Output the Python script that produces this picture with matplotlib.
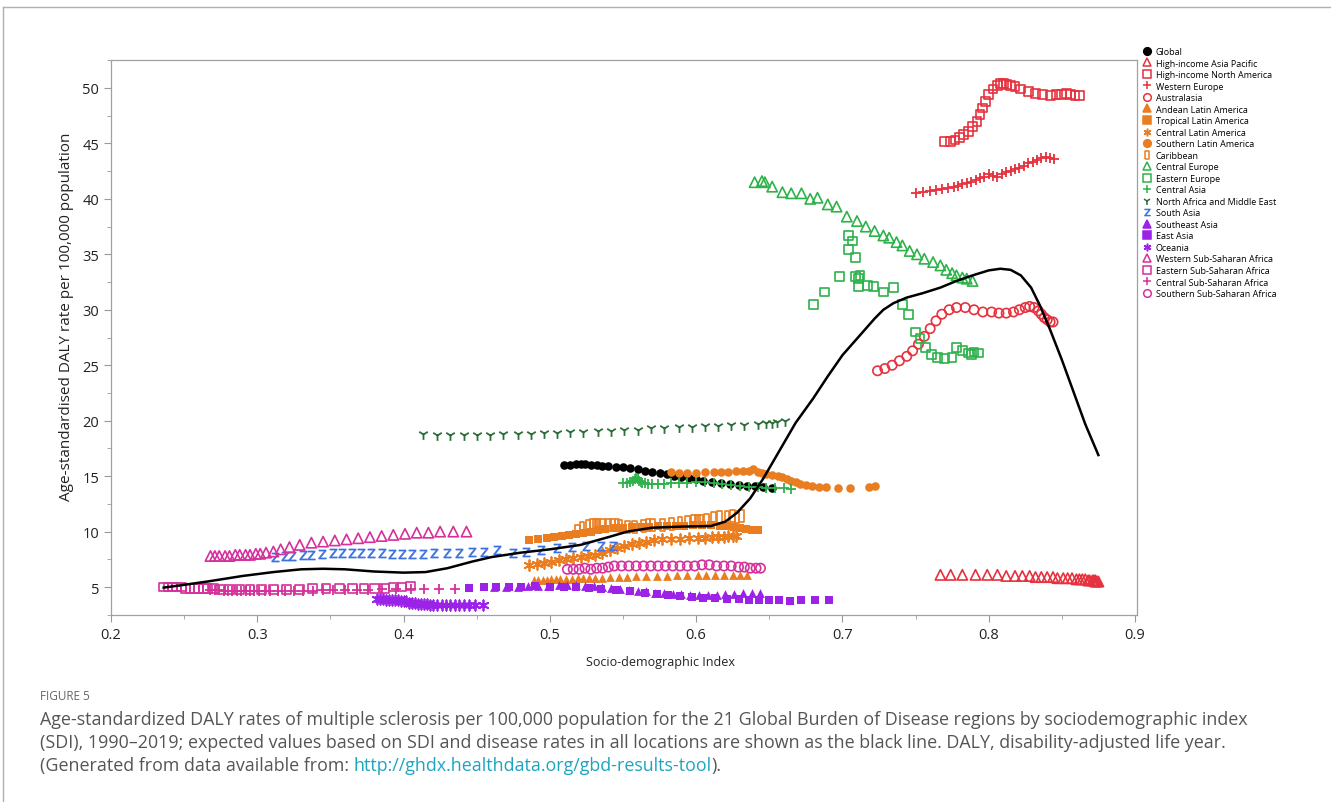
import matplotlib
matplotlib.use('Agg')
import matplotlib.pyplot as plt
from matplotlib.ticker import MultipleLocator
from matplotlib.lines import Line2D

plt.rcParams['font.family'] = ['Open Sans', 'DejaVu Sans']

# ---- data ----
global_x = [0.510, 0.514, 0.518, 0.521, 0.524, 0.528, 0.532, 0.536, 0.540, 0.545, 0.550, 0.555, 0.560, 0.565, 0.570,
            0.575, 0.580, 0.585, 0.590, 0.595, 0.600, 0.605, 0.611, 0.617, 0.623, 0.629, 0.635, 0.640, 0.646, 0.652]
global_y = [16.0, 16.0, 16.1, 16.1, 16.1, 16.0, 16.0, 15.9, 15.9, 15.8, 15.8, 15.7, 15.6, 15.5, 15.4,
            15.3, 15.2, 15.0, 14.9, 14.8, 14.7, 14.6, 14.5, 14.4, 14.3, 14.2, 14.1, 14.1, 14.0, 13.9]

hiap_x = [0.767, 0.774, 0.782, 0.791, 0.799, 0.806, 0.812, 0.818, 0.823, 0.828, 0.832, 0.836, 0.840, 0.844, 0.847,
          0.851, 0.854, 0.857, 0.860, 0.862, 0.864, 0.866, 0.868, 0.869, 0.871, 0.872, 0.873, 0.873, 0.874, 0.875]
hiap_y = [6.1, 6.1, 6.1, 6.1, 6.1, 6.1, 6.0, 6.0, 6.0, 6.0, 5.9, 5.9, 5.9, 5.9, 5.8,
          5.8, 5.8, 5.8, 5.7, 5.7, 5.7, 5.7, 5.6, 5.6, 5.6, 5.6, 5.6, 5.5, 5.5, 5.5]

hina_x = [0.770, 0.774, 0.777, 0.780, 0.783, 0.786, 0.789, 0.792, 0.794, 0.796, 0.798, 0.800, 0.803, 0.806, 0.808,
          0.810, 0.812, 0.815, 0.818, 0.822, 0.827, 0.832, 0.837, 0.842, 0.846, 0.850, 0.853, 0.856, 0.859, 0.862]
hina_y = [45.2, 45.2, 45.3, 45.5, 45.8, 46.1, 46.5, 47.0, 47.6, 48.2, 48.8, 49.4, 49.9, 50.2, 50.4,
          50.4, 50.3, 50.2, 50.1, 49.9, 49.7, 49.5, 49.4, 49.3, 49.4, 49.4, 49.5, 49.4, 49.3, 49.3]

weur_x = [0.750, 0.755, 0.760, 0.764, 0.768, 0.772, 0.776, 0.779, 0.782, 0.785, 0.788, 0.791, 0.794, 0.797, 0.800,
          0.803, 0.806, 0.809, 0.812, 0.815, 0.818, 0.821, 0.824, 0.827, 0.830, 0.833, 0.836, 0.839, 0.842, 0.845]
weur_y = [40.5, 40.6, 40.7, 40.8, 40.9, 41.0, 41.1, 41.2, 41.3, 41.4, 41.5, 41.7, 41.9, 42.0, 42.2,
          42.1, 42.0, 42.2, 42.4, 42.5, 42.7, 42.8, 43.0, 43.2, 43.3, 43.5, 43.7, 43.8, 43.7, 43.6]

aus_x = [0.724, 0.729, 0.734, 0.739, 0.744, 0.748, 0.752, 0.756, 0.760, 0.764, 0.768, 0.773, 0.778, 0.784, 0.790,
         0.796, 0.802, 0.807, 0.812, 0.817, 0.821, 0.825, 0.828, 0.831, 0.834, 0.836, 0.838, 0.840, 0.842, 0.844]
aus_y = [24.5, 24.7, 25.0, 25.4, 25.8, 26.3, 26.9, 27.6, 28.3, 29.0, 29.6, 30.0, 30.2, 30.2, 30.0,
         29.8, 29.8, 29.7, 29.7, 29.8, 30.0, 30.2, 30.3, 30.2, 29.9, 29.6, 29.3, 29.1, 28.9, 28.9]

andean_x = [0.489, 0.492, 0.495, 0.498, 0.501, 0.504, 0.507, 0.511, 0.515, 0.519, 0.523, 0.527, 0.531, 0.536, 0.541,
            0.547, 0.553, 0.559, 0.566, 0.573, 0.580, 0.587, 0.594, 0.601, 0.607, 0.613, 0.619, 0.625, 0.630, 0.635]
andean_y = [5.6, 5.6, 5.6, 5.6, 5.7, 5.7, 5.7, 5.7, 5.7, 5.8, 5.8, 5.8, 5.8, 5.8, 5.9,
            5.9, 5.9, 6.0, 6.0, 6.0, 6.0, 6.1, 6.1, 6.1, 6.1, 6.1, 6.1, 6.1, 6.1, 6.1]

trop_x = [0.486, 0.492, 0.498, 0.503, 0.508, 0.513, 0.518, 0.523, 0.528, 0.533, 0.538, 0.544, 0.550, 0.556, 0.562,
          0.568, 0.574, 0.580, 0.586, 0.592, 0.598, 0.604, 0.610, 0.616, 0.621, 0.626, 0.630, 0.634, 0.638, 0.642]
trop_y = [9.2, 9.3, 9.4, 9.5, 9.6, 9.7, 9.8, 9.9, 10.0, 10.1, 10.2, 10.3, 10.3, 10.4, 10.4,
          10.4, 10.5, 10.5, 10.5, 10.5, 10.6, 10.6, 10.6, 10.5, 10.5, 10.4, 10.3, 10.2, 10.1, 10.1]

cla_x = [0.486, 0.491, 0.496, 0.501, 0.506, 0.511, 0.516, 0.521, 0.526, 0.531, 0.536, 0.541, 0.546, 0.551, 0.556,
         0.561, 0.566, 0.571, 0.577, 0.583, 0.589, 0.595, 0.601, 0.606, 0.611, 0.615, 0.619, 0.622, 0.625, 0.627]
cla_y = [7.0, 7.1, 7.2, 7.3, 7.4, 7.5, 7.6, 7.7, 7.8, 7.9, 8.1, 8.3, 8.5, 8.7, 8.9,
         9.0, 9.1, 9.2, 9.3, 9.3, 9.3, 9.4, 9.4, 9.4, 9.5, 9.5, 9.5, 9.6, 9.6, 9.6]

sla_x = [0.583, 0.588, 0.594, 0.600, 0.606, 0.612, 0.617, 0.622, 0.627, 0.632, 0.636, 0.639, 0.642, 0.645, 0.648,
         0.652, 0.656, 0.659, 0.662, 0.665, 0.668, 0.671, 0.675, 0.679, 0.684, 0.689, 0.697, 0.705, 0.718, 0.722]
sla_y = [15.4, 15.3, 15.3, 15.3, 15.4, 15.4, 15.4, 15.4, 15.5, 15.5, 15.5, 15.6, 15.4, 15.3, 15.2,
         15.1, 15.0, 14.9, 14.7, 14.6, 14.5, 14.3, 14.2, 14.1, 14.0, 14.0, 13.9, 13.9, 14.0, 14.1]

carib_x = [0.519, 0.522, 0.526, 0.529, 0.531, 0.533, 0.536, 0.540, 0.543, 0.546, 0.548, 0.553, 0.558, 0.564, 0.567,
           0.570, 0.577, 0.583, 0.589, 0.594, 0.598, 0.601, 0.603, 0.607, 0.612, 0.616, 0.621, 0.625, 0.628, 0.631]
carib_y = [10.1, 10.3, 10.5, 10.6, 10.6, 10.6, 10.6, 10.6, 10.6, 10.6, 10.5, 10.4, 10.4, 10.5, 10.6,
           10.6, 10.6, 10.7, 10.8, 10.9, 11.0, 11.0, 11.0, 11.1, 11.2, 11.3, 11.3, 11.4, 11.3, 11.4]

ceur_x = [0.640, 0.645, 0.647, 0.652, 0.659, 0.665, 0.672, 0.678, 0.683, 0.690, 0.696, 0.703, 0.710, 0.716, 0.722,
          0.728, 0.732, 0.737, 0.741, 0.746, 0.751, 0.756, 0.762, 0.767, 0.771, 0.775, 0.778, 0.782, 0.785, 0.789]
ceur_y = [41.5, 41.6, 41.5, 41.1, 40.6, 40.5, 40.5, 40.0, 40.1, 39.5, 39.3, 38.4, 38.0, 37.5, 37.1,
          36.7, 36.5, 36.1, 35.8, 35.3, 35.0, 34.6, 34.3, 34.0, 33.6, 33.3, 33.1, 32.9, 32.8, 32.6]

eeur_x = [0.704, 0.707, 0.704, 0.709, 0.698, 0.688, 0.680, 0.709, 0.711, 0.712, 0.711, 0.717, 0.721, 0.728, 0.735,
          0.741, 0.745, 0.750, 0.753, 0.757, 0.761, 0.765, 0.770, 0.775, 0.778, 0.782, 0.786, 0.788, 0.790, 0.793]
eeur_y = [36.7, 36.2, 35.4, 34.7, 33.0, 31.6, 30.5, 33.0, 32.8, 33.1, 32.1, 32.2, 32.1, 31.6, 32.0,
          30.5, 29.6, 28.0, 27.4, 26.6, 26.0, 25.7, 25.6, 25.7, 26.6, 26.3, 26.1, 26.0, 26.2, 26.1]

casia_x = [0.550, 0.553, 0.555, 0.557, 0.558, 0.559, 0.560, 0.561, 0.562, 0.563, 0.565, 0.567, 0.570, 0.574, 0.578,
           0.583, 0.588, 0.594, 0.600, 0.606, 0.612, 0.618, 0.624, 0.630, 0.636, 0.642, 0.648, 0.654, 0.660, 0.665]
casia_y = [14.4, 14.4, 14.5, 14.6, 14.7, 14.8, 14.7, 14.6, 14.5, 14.4, 14.4, 14.3, 14.3, 14.3, 14.3,
           14.4, 14.4, 14.4, 14.5, 14.5, 14.4, 14.3, 14.2, 14.1, 14.0, 14.0, 13.9, 13.9, 13.9, 13.8]

name_x = [0.413, 0.423, 0.432, 0.441, 0.450, 0.459, 0.468, 0.478, 0.487, 0.496, 0.505, 0.514, 0.523, 0.533, 0.542,
          0.551, 0.560, 0.569, 0.578, 0.588, 0.597, 0.606, 0.615, 0.624, 0.633, 0.642, 0.648, 0.652, 0.655, 0.661]
name_y = [18.8, 18.7, 18.7, 18.7, 18.7, 18.7, 18.8, 18.8, 18.8, 18.9, 18.9, 19.0, 19.0, 19.1, 19.1,
          19.2, 19.2, 19.3, 19.3, 19.4, 19.4, 19.5, 19.5, 19.6, 19.6, 19.7, 19.8, 19.8, 19.9, 20.0]

sasia_x = [0.312, 0.319, 0.324, 0.331, 0.337, 0.344, 0.352, 0.358, 0.365, 0.371, 0.378, 0.385, 0.392, 0.399, 0.406,
           0.413, 0.421, 0.430, 0.438, 0.447, 0.455, 0.464, 0.475, 0.484, 0.494, 0.505, 0.515, 0.525, 0.535, 0.543]
sasia_y = [7.7, 7.8, 7.8, 7.9, 7.9, 8.0, 8.1, 8.1, 8.1, 8.1, 8.1, 8.1, 8.0, 8.0, 8.0,
           8.0, 8.1, 8.1, 8.1, 8.2, 8.2, 8.3, 8.1, 8.2, 8.3, 8.5, 8.6, 8.7, 8.7, 8.7]

seasia_x = [0.462, 0.470, 0.478, 0.485, 0.492, 0.499, 0.506, 0.512, 0.518, 0.524, 0.530, 0.536, 0.542, 0.548, 0.554,
            0.560, 0.566, 0.572, 0.578, 0.584, 0.590, 0.596, 0.602, 0.608, 0.614, 0.620, 0.626, 0.632, 0.638, 0.644]
seasia_y = [5.0, 5.0, 5.0, 5.1, 5.1, 5.1, 5.2, 5.2, 5.2, 5.1, 5.1, 5.0, 4.9, 4.8, 4.7,
            4.6, 4.6, 4.5, 4.5, 4.4, 4.4, 4.3, 4.3, 4.3, 4.3, 4.4, 4.4, 4.5, 4.5, 4.5]

easia_x = [0.445, 0.455, 0.463, 0.472, 0.480, 0.490, 0.500, 0.510, 0.518, 0.527, 0.535, 0.545, 0.555, 0.565, 0.573,
           0.581, 0.589, 0.597, 0.605, 0.613, 0.621, 0.629, 0.636, 0.643, 0.650, 0.657, 0.664, 0.672, 0.681, 0.691]
easia_y = [4.9, 5.0, 5.0, 5.0, 5.0, 5.1, 5.0, 5.0, 5.0, 4.9, 4.8, 4.7, 4.6, 4.5, 4.4,
           4.3, 4.2, 4.1, 4.0, 4.0, 3.9, 3.9, 3.8, 3.8, 3.8, 3.8, 3.7, 3.8, 3.8, 3.8]

ocea_x = [0.382, 0.384, 0.386, 0.388, 0.390, 0.392, 0.394, 0.396, 0.398, 0.400, 0.402, 0.404, 0.406, 0.408, 0.410,
          0.412, 0.414, 0.416, 0.418, 0.420, 0.423, 0.426, 0.429, 0.432, 0.435, 0.438, 0.441, 0.445, 0.449, 0.454]
ocea_y = [3.9, 3.9, 3.9, 3.8, 3.8, 3.8, 3.8, 3.8, 3.7, 3.7, 3.7, 3.6, 3.6, 3.6, 3.5,
          3.5, 3.5, 3.5, 3.4, 3.4, 3.4, 3.4, 3.4, 3.4, 3.4, 3.4, 3.4, 3.4, 3.4, 3.4]

wssa_x = [0.268, 0.271, 0.274, 0.278, 0.281, 0.285, 0.288, 0.292, 0.295, 0.299, 0.302, 0.306, 0.311, 0.316, 0.322,
          0.329, 0.337, 0.345, 0.353, 0.361, 0.369, 0.377, 0.385, 0.393, 0.401, 0.409, 0.417, 0.425, 0.434, 0.443]
wssa_y = [7.8, 7.8, 7.8, 7.8, 7.8, 7.9, 7.9, 7.9, 7.9, 8.0, 8.0, 8.1, 8.2, 8.4, 8.6,
          8.8, 9.0, 9.1, 9.2, 9.3, 9.4, 9.5, 9.6, 9.7, 9.8, 9.9, 9.9, 10.0, 10.0, 10.0]

essa_x = [0.236, 0.239, 0.242, 0.245, 0.248, 0.251, 0.254, 0.257, 0.260, 0.263, 0.266, 0.270, 0.275, 0.281, 0.288,
          0.295, 0.303, 0.311, 0.320, 0.329, 0.338, 0.347, 0.356, 0.365, 0.373, 0.380, 0.387, 0.393, 0.399, 0.405]
essa_y = [5.0, 5.0, 5.0, 5.0, 5.0, 4.9, 4.9, 4.9, 4.9, 4.9, 4.9, 4.9, 4.8, 4.8, 4.8,
          4.8, 4.8, 4.8, 4.8, 4.8, 4.9, 4.9, 4.9, 4.9, 4.9, 4.9, 4.9, 5.0, 5.0, 5.1]

cssa_x = [0.268, 0.271, 0.274, 0.277, 0.280, 0.283, 0.286, 0.289, 0.292, 0.295, 0.298, 0.301, 0.305, 0.309, 0.314,
          0.319, 0.325, 0.331, 0.338, 0.345, 0.352, 0.360, 0.368, 0.376, 0.385, 0.395, 0.405, 0.414, 0.424, 0.435]
cssa_y = [4.7, 4.7, 4.7, 4.6, 4.6, 4.6, 4.6, 4.6, 4.6, 4.6, 4.6, 4.6, 4.6, 4.6, 4.6,
          4.6, 4.6, 4.6, 4.6, 4.7, 4.7, 4.7, 4.7, 4.7, 4.8, 4.8, 4.8, 4.8, 4.8, 4.8]

sssa_x = [0.512, 0.516, 0.520, 0.524, 0.528, 0.532, 0.536, 0.540, 0.544, 0.549, 0.554, 0.559, 0.564, 0.569, 0.574,
          0.579, 0.584, 0.589, 0.594, 0.599, 0.604, 0.609, 0.614, 0.619, 0.624, 0.629, 0.633, 0.637, 0.641, 0.644]
sssa_y = [6.6, 6.6, 6.6, 6.7, 6.6, 6.7, 6.7, 6.8, 6.9, 6.9, 6.9, 6.9, 6.9, 6.9, 6.9,
          6.9, 6.9, 6.9, 6.9, 6.9, 7.0, 7.0, 6.9, 6.9, 6.9, 6.8, 6.8, 6.7, 6.7, 6.7]

# expected values (black line)
exp_x = [0.236, 0.25, 0.266, 0.29, 0.311, 0.33, 0.345, 0.36, 0.38, 0.40, 0.415, 0.43, 0.447, 0.46, 0.48,
         0.50, 0.521, 0.54, 0.553, 0.57, 0.59, 0.61, 0.62, 0.628, 0.637, 0.646, 0.657, 0.668, 0.68, 0.69,
         0.70, 0.714, 0.722, 0.728, 0.735, 0.744, 0.755, 0.767, 0.778, 0.789, 0.80, 0.808, 0.815, 0.822, 0.829,
         0.835, 0.842, 0.85, 0.858, 0.866, 0.875]
exp_y = [4.95, 5.2, 5.5, 6.0, 6.35, 6.6, 6.65, 6.6, 6.4, 6.3, 6.35, 6.7, 7.3, 7.7, 8.1,
         8.4, 8.8, 9.5, 10.0, 10.35, 10.45, 10.5, 10.9, 11.7, 13.0, 14.8, 17.3, 19.8, 22.0, 24.0,
         25.9, 28.0, 29.2, 30.0, 30.6, 31.1, 31.5, 32.0, 32.6, 33.1, 33.55, 33.7, 33.6, 33.1, 32.0,
         30.4, 28.2, 25.5, 22.6, 19.7, 16.9]

RED = '#e5323e'
ORANGE = '#ea7d1f'
GREEN = '#2eb24a'
DKGREEN = '#2e6e3a'
BLUE = '#3a70e0'
PURPLE = '#9b22e6'
MAGENTA = '#d5309b'

tallrect = [(-0.4, -1), (0.4, -1), (0.4, 1), (-0.4, 1), (-0.4, -1)]
asterisk = (6, 2, 0)
zmark = r'$\mathsf{Z}$'

# label, x, y, marker, color, filled, size
series = [
    ('Global', global_x, global_y, 'o', 'black', True, 38),
    ('High-income Asia Pacific', hiap_x, hiap_y, '^', RED, False, 55),
    ('High-income North America', hina_x, hina_y, 's', RED, False, 40),
    ('Western Europe', weur_x, weur_y, '+', RED, True, 60),
    ('Australasia', aus_x, aus_y, 'o', RED, False, 45),
    ('Andean Latin America', andean_x, andean_y, '^', ORANGE, True, 40),
    ('Tropical Latin America', trop_x, trop_y, 's', ORANGE, True, 30),
    ('Central Latin America', cla_x, cla_y, asterisk, ORANGE, True, 60),
    ('Southern Latin America', sla_x, sla_y, 'o', ORANGE, True, 38),
    ('Caribbean', carib_x, carib_y, tallrect, ORANGE, False, 70),
    ('Central Europe', ceur_x, ceur_y, '^', GREEN, False, 55),
    ('Eastern Europe', eeur_x, eeur_y, 's', GREEN, False, 40),
    ('Central Asia', casia_x, casia_y, '+', GREEN, True, 60),
    ('North Africa and Middle East', name_x, name_y, '1', DKGREEN, True, 60),
    ('South Asia', sasia_x, sasia_y, zmark, BLUE, True, 42),
    ('Southeast Asia', seasia_x, seasia_y, '^', PURPLE, True, 40),
    ('East Asia', easia_x, easia_y, 's', PURPLE, True, 30),
    ('Oceania', ocea_x, ocea_y, asterisk, PURPLE, True, 55),
    ('Western Sub-Saharan Africa', wssa_x, wssa_y, '^', MAGENTA, False, 55),
    ('Eastern Sub-Saharan Africa', essa_x, essa_y, 's', MAGENTA, False, 40),
    ('Central Sub-Saharan Africa', cssa_x, cssa_y, '+', MAGENTA, True, 60),
    ('Southern Sub-Saharan Africa', sssa_x, sssa_y, 'o', MAGENTA, False, 45),
]

W, H = 1331, 803
fig = plt.figure(figsize=(W / 100, H / 100), dpi=100)
ax = fig.add_axes([111 / W, 1 - 616 / H, (1137 - 111) / W, (616 - 61) / H])

handles = []
for label, xs, ys, mk, col, filled, s in series:
    if mk == zmark:
        ax.scatter(xs, ys, marker=mk, s=s, c=col, linewidths=0.5, zorder=3)
    elif mk in ('+', '1', asterisk):
        ax.scatter(xs, ys, marker=mk, s=s, c=col, linewidths=1.3, zorder=3)
    elif filled:
        ax.scatter(xs, ys, marker=mk, s=s, c=col, linewidths=0, zorder=3)
    else:
        ax.scatter(xs, ys, marker=mk, s=s, facecolors='none', edgecolors=col, linewidths=1.2, zorder=3)
    handles.append(Line2D([], [], linestyle='none', marker=mk, markersize=(5 if mk == zmark else 5.5),
                          color=col, markerfacecolor=(col if filled else 'none'),
                          markeredgecolor=col, markeredgewidth=(0.5 if mk == zmark else 1.1), label=label))

ax.plot(exp_x, exp_y, color='black', linewidth=1.8, zorder=4)

ax.set_xlim(0.2, 0.9014)
ax.set_ylim(2.48, 52.52)
ax.xaxis.set_minor_locator(MultipleLocator(0.05))
ax.yaxis.set_major_locator(MultipleLocator(5))
ax.yaxis.set_minor_locator(MultipleLocator(2.5))
ax.set_xticks([0.2, 0.3, 0.4, 0.5, 0.6, 0.7, 0.8, 0.9])
ax.set_xticklabels(['0.2', '0.3', '0.4', '0.5', '0.6', '0.7', '0.8', '0.9'])
ax.tick_params(which='major', length=5, color='#9a9a9a', labelsize=10.5, labelcolor='#222222')
ax.tick_params(which='minor', length=3, color='#9a9a9a')
for sp in ax.spines.values():
    sp.set_color('#a0a0a0')
    sp.set_linewidth(0.9)

ax.set_xlabel('Socio-demographic Index', fontsize=9, color='#222222')
ax.xaxis.set_label_coords(0.536, -0.072)
ax.set_ylabel('Age-standardised DALY rate per 100,000 population', fontsize=11, color='#222222')
ax.yaxis.set_label_coords(-0.036, 0.539)

fig.legend(handles=handles, loc='upper left', bbox_to_anchor=(1143 / W, 1 - 48 / H), frameon=False,
           fontsize=6.5, labelspacing=0.28, handlelength=0.9, handletextpad=0.5, borderaxespad=0, borderpad=0)

# page frame
fig.add_artist(Line2D([3 / W, 1], [1 - 8 / H, 1 - 8 / H], color='#b0b0b0', linewidth=1))
fig.add_artist(Line2D([3 / W, 3 / W], [0, 1 - 8 / H], color='#b0b0b0', linewidth=1))

# caption
cap_col = '#555555'
cap_fs = 12.9
fig.text(40 / W, 1 - 697 / H, 'FIGURE 5', fontsize=8.5, color='#666666', va='center')
fig.text(40 / W, 1 - 720 / H, 'Age-standardized DALY rates of multiple sclerosis per 100,000 population for the 21 '
         'Global Burden of Disease regions by sociodemographic index', fontsize=cap_fs, color=cap_col, va='center')
fig.text(40 / W, 1 - 743 / H, '(SDI), 1990\u20132019; expected values based on SDI and disease rates in all locations '
         'are shown as the black line. DALY, disability-adjusted life year.', fontsize=cap_fs, color=cap_col,
         va='center')
t1 = fig.text(40 / W, 1 - 766 / H, '(Generated from data available from: ', fontsize=cap_fs, color=cap_col,
              va='center')
fig.canvas.draw()
r = fig.canvas.get_renderer()
bb = t1.get_window_extent(r)
t2 = fig.text(bb.x1 / W, 1 - 766 / H, 'http://ghdx.healthdata.org/gbd-results-tool', fontsize=cap_fs,
              color='#1ea5be', va='center')
bb2 = t2.get_window_extent(r)
fig.text(bb2.x1 / W, 1 - 766 / H, ').', fontsize=cap_fs, color=cap_col, va='center')

fig.savefig('out.png', dpi=100)
